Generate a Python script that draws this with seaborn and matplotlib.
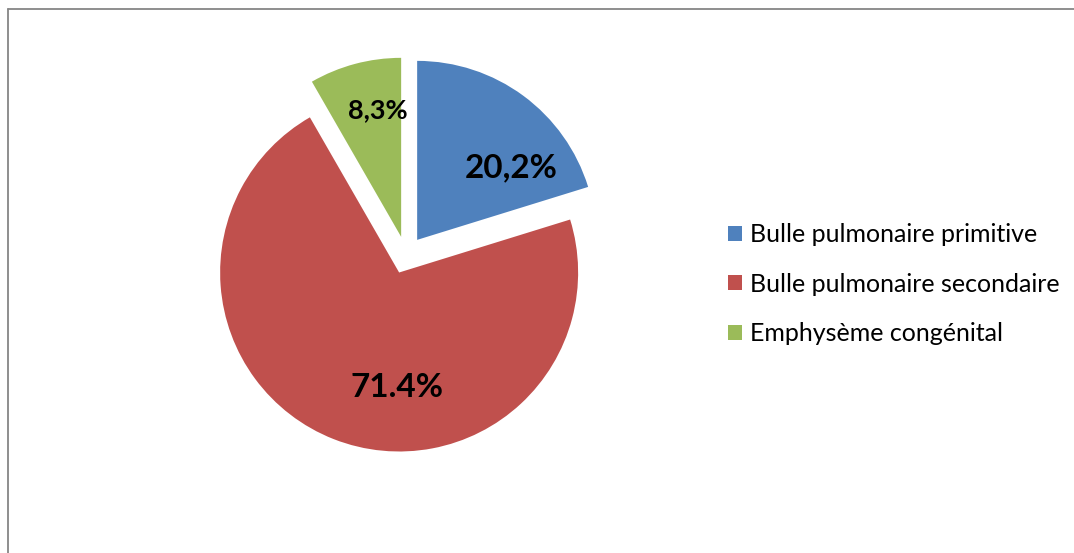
import numpy as np
import matplotlib
matplotlib.use("Agg")
import matplotlib.pyplot as plt
from matplotlib.lines import Line2D
import seaborn as sns

# ---- data ----
categories = ["Bulle pulmonaire primitive", "Bulle pulmonaire secondaire", "Emphysème congénital"]
values = [20.2, 71.4, 8.3]
value_labels = ["20,2%", "71.4%", "8,3%"]
colors = ["#4F81BD", "#C0504D", "#9BBB59"]

sns.set_theme(style="white")
plt.rcParams["font.family"] = ["Lato", "DejaVu Sans"]
plt.rcParams["text.color"] = "black"

W, H = 1074, 553
fig = plt.figure(figsize=(W / 100, H / 100), dpi=100)
ax = fig.add_axes([0, 0, 1, 1])

# pie geometry (pixel-based layout)
cx, cy, R = 406, H - 255, 179
wedges, _ = ax.pie(values, colors=colors, startangle=90, counterclock=False,
                   explode=[0.105 * R] * 3, center=(cx, cy), radius=R,
                   wedgeprops=dict(linewidth=0), frame=True)
ax.set_xlim(0, W)
ax.set_ylim(0, H)
ax.set_aspect("equal")
ax.axis("off")

# label placement (angle in degrees, distance in px from pie centre)
label_pos = [(39.6, 136), (-94, 133), (101, 148)]
label_sizes = [24, 24, 19.5]
for (ang, dist), txt, fs in zip(label_pos, value_labels, label_sizes):
    a = np.deg2rad(ang)
    ax.text(cx + dist * np.cos(a), cy + dist * np.sin(a), txt,
            ha="center", va="center", fontsize=fs, fontweight="bold", color="black")

leg = fig.legend(wedges, categories, loc="center left",
                 bbox_to_anchor=(728 / W, 1 - 284 / H), frameon=False,
                 fontsize=18, handlelength=0.56, handleheight=0.56,
                 handletextpad=0.32, labelspacing=1.06, borderpad=0, borderaxespad=0)
for t in leg.get_texts():
    t.set_color("black")

# outer frame (top and left visible)
fig.add_artist(Line2D([8 / W, 1], [1 - 9 / H, 1 - 9 / H], transform=fig.transFigure,
                      color="#868686", linewidth=1.3))
fig.add_artist(Line2D([8 / W, 8 / W], [0, 1 - 9 / H], transform=fig.transFigure,
                      color="#868686", linewidth=1.3))

fig.savefig("out.png", dpi=100, facecolor="white")
